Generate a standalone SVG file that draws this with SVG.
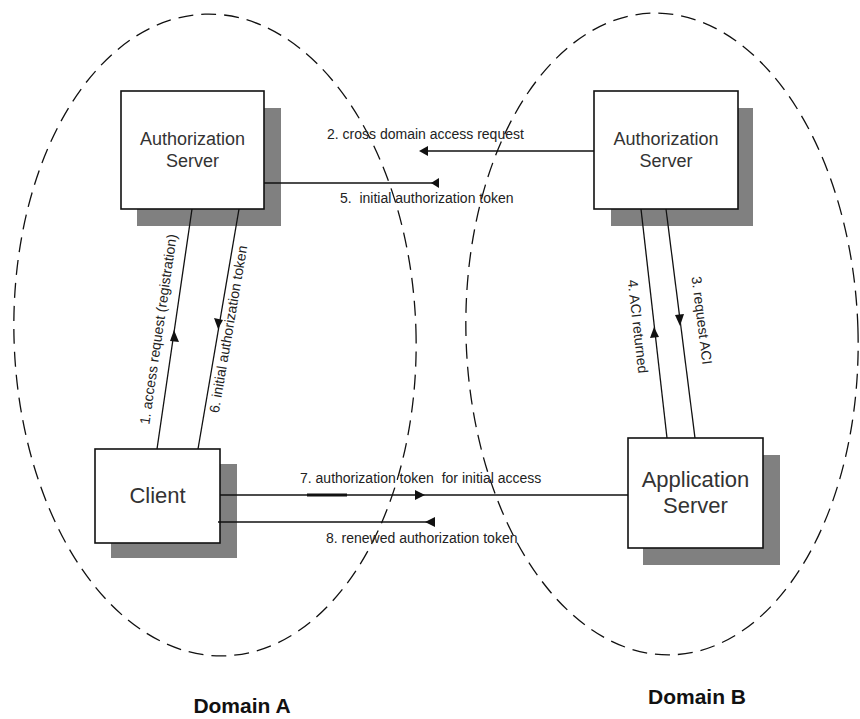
<svg xmlns="http://www.w3.org/2000/svg" width="860" height="719" viewBox="0 0 860 719">
<defs>
<style>
.dom{fill:none;stroke:#111;stroke-width:1.3;stroke-dasharray:15 8}
.shadow{fill:#808080}
.box{fill:#fff;stroke:#111;stroke-width:1.6}
.bt{font-family:"Liberation Sans",Arial,sans-serif;fill:#333;text-anchor:middle}
.ln{stroke:#111;stroke-width:1.3;fill:none}
.lb{font-family:"Liberation Sans",Arial,sans-serif;font-size:14px;fill:#222}
.ah{fill:#111}
.dm{font-family:"Liberation Sans",Arial,sans-serif;font-size:21px;font-weight:bold;fill:#111;text-anchor:middle}
</style>
</defs>
<rect width="860" height="719" fill="#fff"/>
<g id="domains">
<ellipse class="dom" cx="215" cy="335" rx="201" ry="321" transform="rotate(-1.8 215 335)"/>
<ellipse class="dom" cx="662" cy="334" rx="196" ry="321" transform="rotate(-1.8 662 334)"/>
<text class="dm" x="242" y="713">Domain A</text>
<text class="dm" x="697" y="704">Domain B</text>
</g>
<g id="authA">
<rect class="shadow" x="137" y="108" width="144" height="118"/>
<rect class="box" x="121" y="91" width="143" height="118"/>
<text class="bt" x="192.5" y="145" font-size="18">Authorization</text>
<text class="bt" x="192.5" y="167" font-size="18">Server</text>
</g>
<g id="authB">
<rect class="shadow" x="611" y="108" width="142" height="118"/>
<rect class="box" x="594" y="91" width="144" height="118"/>
<text class="bt" x="666" y="145" font-size="18">Authorization</text>
<text class="bt" x="666" y="167" font-size="18">Server</text>
</g>
<g id="client">
<rect class="shadow" x="111" y="464" width="126" height="94"/>
<rect class="box" x="95" y="449" width="125" height="94"/>
<text class="bt" x="157.5" y="503" font-size="22">Client</text>
</g>
<g id="appserver">
<rect class="shadow" x="643" y="455" width="137" height="110"/>
<rect class="box" x="628" y="438" width="135" height="110"/>
<text class="bt" x="695.5" y="487" font-size="22">Application</text>
<text class="bt" x="695.5" y="513" font-size="22">Server</text>
</g>
<g id="connectors">
<line class="ln" x1="426" y1="151" x2="594" y2="151"/>
<polygon class="ah" points="419,151 428,146 428,156"/>
<text class="lb" x="327" y="139">2. cross domain access request</text>
<line class="ln" x1="264" y1="183" x2="439" y2="183"/>
<polygon class="ah" points="431,183 439,178 439,188"/>
<text class="lb" x="340" y="203" xml:space="preserve">5.  initial authorization token</text>
<line class="ln" x1="157" y1="449" x2="192" y2="209"/>
<polygon class="ah" points="174,330 170,341 179,342"/>
<text class="lb" text-anchor="middle" transform="translate(163,330) rotate(-81.7)">1. access request (registration)</text>
<line class="ln" x1="198" y1="449" x2="239" y2="209"/>
<polygon class="ah" points="218,329 214,318 223,320"/>
<text class="lb" text-anchor="middle" transform="translate(233,330) rotate(-80.3)">6.  initial authorization token</text>
<line class="ln" x1="641" y1="209" x2="667" y2="438"/>
<polygon class="ah" points="654,327 650,338 659,337"/>
<text class="lb" text-anchor="middle" transform="translate(633,327) rotate(83.5)">4. ACI returned</text>
<line class="ln" x1="666" y1="209" x2="695" y2="438"/>
<polygon class="ah" points="680,326 675,315 684,314"/>
<text class="lb" text-anchor="middle" transform="translate(697,321) rotate(82.8)">3. request ACI</text>
<line class="ln" x1="220" y1="495" x2="628" y2="495"/>
<line x1="307" y1="495" x2="347" y2="495" stroke="#111" stroke-width="3"/>
<polygon class="ah" points="425,495 415,490 415,500"/>
<text class="lb" x="300" y="483" xml:space="preserve">7. authorization token  for initial access</text>
<line class="ln" x1="218" y1="522" x2="435" y2="522"/>
<polygon class="ah" points="425,522 435,517 435,527"/>
<text class="lb" x="326" y="543">8. renewed authorization token</text>
</g>
</svg>
